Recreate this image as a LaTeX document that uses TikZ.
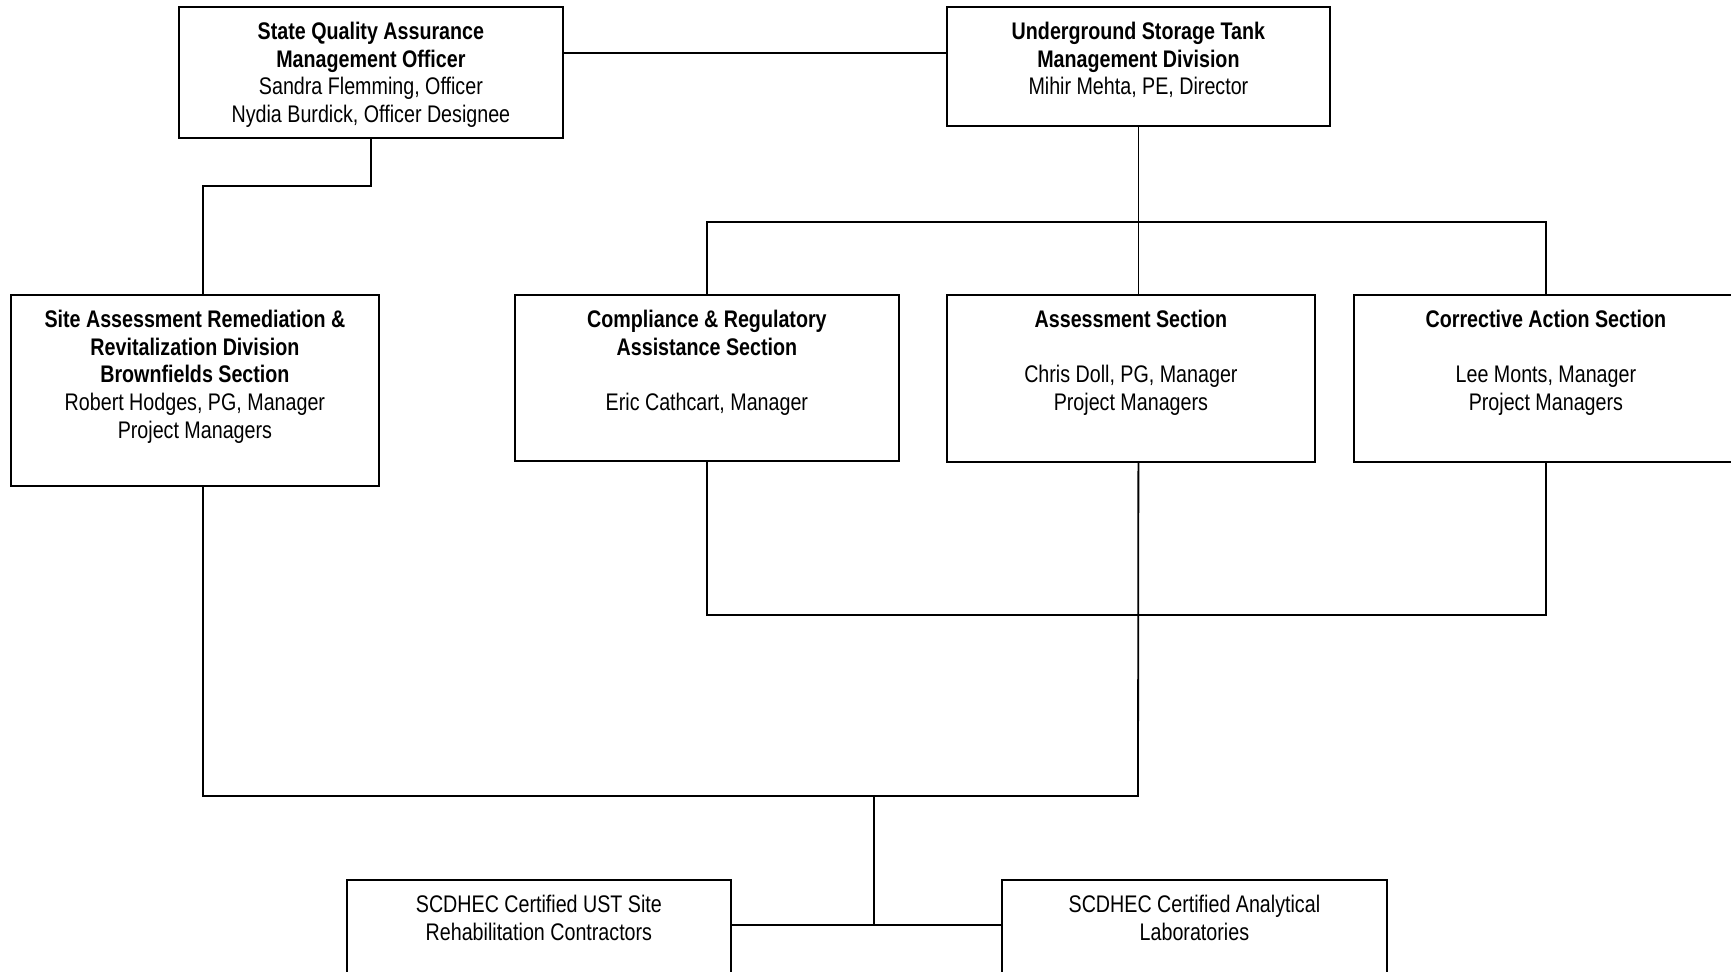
\documentclass[tikz,border=0pt]{standalone}
\usepackage{fontspec}
\setmainfont[FakeStretch=0.82]{Liberation Sans}
\usetikzlibrary{positioning}

\tikzset{
  unit/.style={draw, line width=0.9pt, inner sep=0pt, anchor=north west},
  boxtext/.style={align=center, inner sep=0pt, font=\fontsize{12}{13.8}\selectfont},
  wire/.style={line width=0.9pt}
}

\begin{document}
\begin{tikzpicture}[x=0.5pt, y=-0.5pt]

    % Fix the page to the size of the chart
    \useasboundingbox (0,0) rectangle (1731,972);
    \clip (0,0) rectangle (1731,972);

    % Top row
    \node[unit, minimum width=192pt, minimum height=65.5pt] (sqa) at (178,6) {};
    \node[unit, minimum width=191.5pt, minimum height=59.5pt] (ust) at (946,6) {};

    % Section row
    \node[unit, minimum width=184pt, minimum height=95.5pt] (sar) at (10,294) {};
    \node[unit, minimum width=192pt, minimum height=83pt] (cra) at (514,294) {};
    \node[unit, minimum width=184pt, minimum height=83.5pt] (as) at (946,294) {};
    \node[unit, minimum width=192pt, minimum height=83.5pt] (cas) at (1353,294) {};

    % Outside parties
    \node[unit, minimum width=192pt, minimum height=65pt] (contr) at (346,879) {};
    \node[unit, minimum width=192.5pt, minimum height=65pt] (labs) at (1001,879) {};

    % Box texts
    \node[boxtext, below=8pt of sqa.north] (sqatext) {\textbf{State Quality Assurance}\\
        \textbf{Management Officer}\\ Sandra Flemming, Officer\\ Nydia Burdick, Officer Designee};
    \node[boxtext, below=8pt of ust.north] (usttext) {\textbf{Underground Storage Tank}\\
        \textbf{Management Division}\\ Mihir Mehta, PE, Director};
    \node[boxtext, below=8pt of sar.north] (sartext) {\textbf{Site Assessment Remediation \&}\\
        \textbf{Revitalization Division}\\ \textbf{Brownfields Section}\\
        Robert Hodges, PG, Manager\\ Project Managers};
    \node[boxtext, below=8pt of cra.north] (cratext) {\textbf{Compliance \& Regulatory}\\
        \textbf{Assistance Section}\\[13.8pt] Eric Cathcart, Manager};
    \node[boxtext, below=8pt of as.north] (astext) {\textbf{Assessment Section}\\[13.8pt]
        Chris Doll, PG, Manager\\ Project Managers};
    \node[boxtext, below=8pt of cas.north] (castext) {\textbf{Corrective Action Section}\\[13.8pt]
        Lee Monts, Manager\\ Project Managers};
    \node[boxtext, below=8pt of contr.north] (contrtext) {SCDHEC Certified UST Site\\ Rehabilitation Contractors};
    \node[boxtext, below=8pt of labs.north] (labstext) {SCDHEC Certified Analytical\\ Laboratories};

    % Junction points
    \coordinate (topbus) at (1138,222);
    \coordinate (midbus) at (1138,615);
    \coordinate (lowbus) at (1138,796);
    \coordinate (drop) at (874,796);
    \coordinate (join) at (874,925);

    % Connectors
    \draw[wire] ([yshift=-23.5pt]sqa.north east) -- ([yshift=-23.5pt]ust.north west);
    \draw[wire] (sqa.south) -- ++(0,47) -| ([xshift=4pt]sar.north);
    \draw[wire] (ust.south) -- (ust.south |- as.north);
    \draw[wire] (cra.north) |- (topbus) -| (cas.north);
    \draw[wire] (cra.south) |- (midbus) -| (cas.south);
    \draw[wire] ([xshift=4pt]sar.south) |- (lowbus) -- (ust.south |- as.south);
    \draw[wire] (drop) -- (join);
    \draw[wire] (contr.east |- join) -- (labs.west |- join);

\end{tikzpicture}
\end{document}
